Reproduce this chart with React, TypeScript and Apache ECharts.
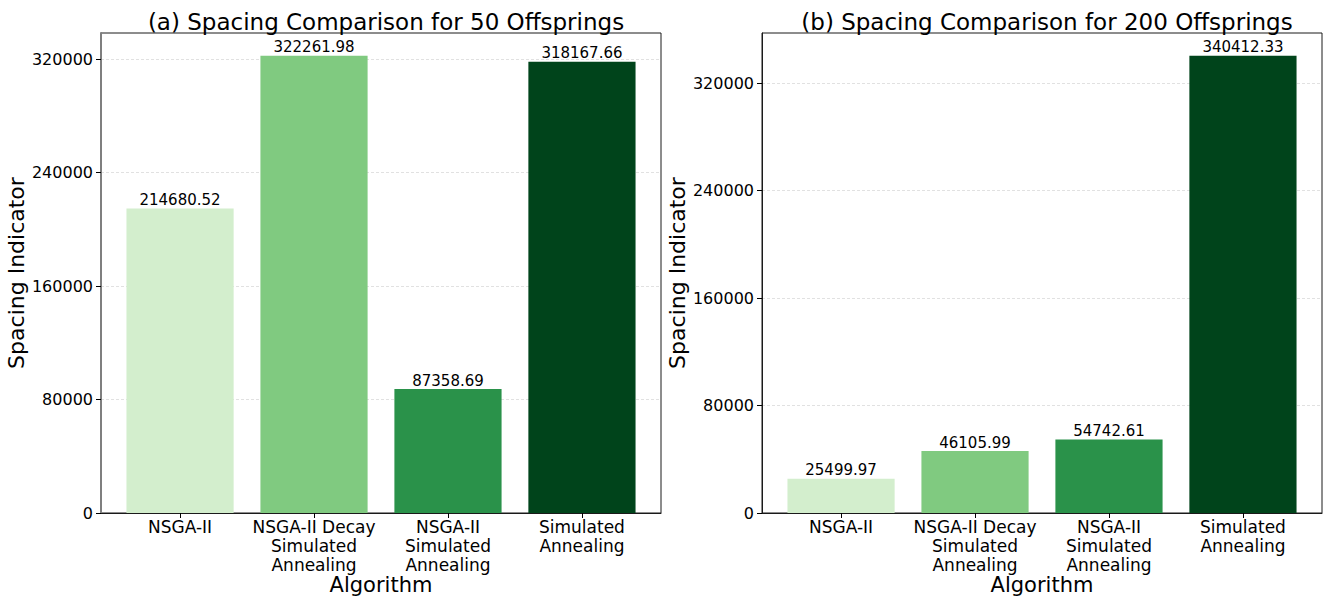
import React, { useEffect, useRef } from "react";
import * as echarts from "echarts";

// Algorithms compared on the x axis (multi-line tick labels)
const CATEGORIES = [
  "NSGA-II",
  "NSGA-II Decay\nSimulated\nAnnealing",
  "NSGA-II\nSimulated\nAnnealing",
  "Simulated\nAnnealing",
];

// Spacing indicator per algorithm
const SPACING_50 = [214680.52, 322261.98, 87358.69, 318167.66];
const SPACING_200 = [25499.97, 46105.99, 54742.61, 340412.33];

const BAR_COLORS = ["#d3eecd", "#80ca80", "#2a924a", "#00441b"];
const Y_TICKS = [0, 80000, 160000, 240000, 320000];
const X_TICKS = [0, 1, 2, 3];

const TITLES = [
  "(a) Spacing Comparison for 50 Offsprings",
  "(b) Spacing Comparison for 200 Offsprings",
];

const FONT = "DejaVu Sans";
const BAR_WIDTH = 0.8;

const GRID_TOP = 33;
const GRID_HEIGHT = 480;
const GRID_WIDTH = 560;
const GRID_LEFTS = [101, 762];

function buildOption() {
  const panels = [SPACING_50, SPACING_200];
  const grid: any[] = [];
  const xAxis: any[] = [];
  const yAxis: any[] = [];
  const series: any[] = [];
  const title: any[] = [];

  panels.forEach((values, p) => {
    grid.push({
      left: GRID_LEFTS[p],
      top: GRID_TOP,
      width: GRID_WIDTH,
      height: GRID_HEIGHT,
      outerBoundsMode: "none",
      containLabel: false,
      show: true,
      borderColor: "#1a1a1a",
      borderWidth: 1,
      backgroundColor: "transparent",
    });
    title.push({
      text: TITLES[p],
      left: GRID_LEFTS[p] + GRID_WIDTH / 2,
      top: 5,
      textAlign: "center",
      textStyle: {
        fontFamily: FONT,
        fontSize: 23,
        fontWeight: "normal",
        color: "#000",
      },
    });
    const n = values.length;
    const pad = (n - 1 + BAR_WIDTH) * 0.05;
    xAxis.push({
      type: "value",
      gridIndex: p,
      min: -BAR_WIDTH / 2 - pad,
      max: n - 1 + BAR_WIDTH / 2 + pad,
      name: "Algorithm",
      nameLocation: "middle",
      nameGap: 61,
      nameMoveOverlap: false,
      nameTextStyle: {
        fontFamily: FONT,
        fontSize: 21,
        color: "#000",
        verticalAlign: "top",
      },
      axisLine: { show: true, onZero: false, lineStyle: { color: "#1a1a1a", width: 1 } },
      axisTick: {
        show: true,
        length: 5,
        customValues: X_TICKS,
        lineStyle: { color: "#000", width: 1 },
      },
      axisLabel: {
        customValues: X_TICKS,
        formatter: (v: number) => CATEGORIES[Math.round(v)] ?? "",
        fontFamily: FONT,
        fontSize: 17,
        lineHeight: 19,
        color: "#000",
        margin: 4,
        align: "center",
      },
      splitLine: { show: false },
    });
    yAxis.push({
      type: "value",
      gridIndex: p,
      min: 0,
      max: Math.max(...values) * 1.05,
      name: "Spacing Indicator",
      nameLocation: "middle",
      nameGap: 74,
      nameMoveOverlap: false,
      nameTextStyle: {
        fontFamily: FONT,
        fontSize: 22,
        color: "#000",
      },
      axisLine: {
        show: true,
        onZero: false,
        lineStyle: { color: p === 0 ? "#7f7f7f" : "#1a1a1a", width: p === 0 ? 2 : 1 },
      },
      axisTick: {
        show: true,
        length: 5,
        customValues: Y_TICKS,
        lineStyle: { color: "#000", width: 1 },
      },
      axisLabel: {
        customValues: Y_TICKS,
        formatter: (v: number) => String(v),
        fontFamily: FONT,
        fontSize: 16,
        color: "#000",
        margin: 8,
      },
      splitLine: {
        show: true,
        lineStyle: { color: "#d9d9d9", width: 0.8, type: [3, 2] },
      },
    });
    series.push({
      type: "custom",
      xAxisIndex: p,
      yAxisIndex: p,
      data: values.map((v, i) => [i, v]),
      encode: { x: 0, y: 1 },
      clip: false,
      renderItem: (params: any, api: any) => {
        const x = api.value(0);
        const y = api.value(1);
        const tl = api.coord([x - BAR_WIDTH / 2, y]);
        const br = api.coord([x + BAR_WIDTH / 2, 0]);
        return {
          type: "group",
          children: [
            {
              type: "rect",
              shape: { x: tl[0], y: tl[1], width: br[0] - tl[0], height: br[1] - tl[1] },
              style: { fill: BAR_COLORS[params.dataIndex] },
            },
            {
              type: "text",
              x: (tl[0] + br[0]) / 2,
              y: tl[1] - 1,
              style: {
                text: y.toFixed(2),
                fontFamily: FONT,
                fontSize: 15,
                fill: "#000",
                align: "center",
                verticalAlign: "bottom",
              },
            },
          ],
        };
      },
    });
  });

  return {
    animation: false,
    backgroundColor: "#fff",
    title,
    grid,
    xAxis,
    yAxis,
    series,
  };
}

export default function App() {
  const ref = useRef<HTMLDivElement>(null);
  useEffect(() => {
    if (!ref.current) return;
    const chart = echarts.init(ref.current, undefined, { renderer: "svg" });
    chart.setOption(buildOption());
    return () => chart.dispose();
  }, []);
  return (
    <div
      ref={ref}
      style={{ position: "fixed", left: 0, top: 0, width: 1325, height: 598, background: "#fff" }}
    />
  );
}
